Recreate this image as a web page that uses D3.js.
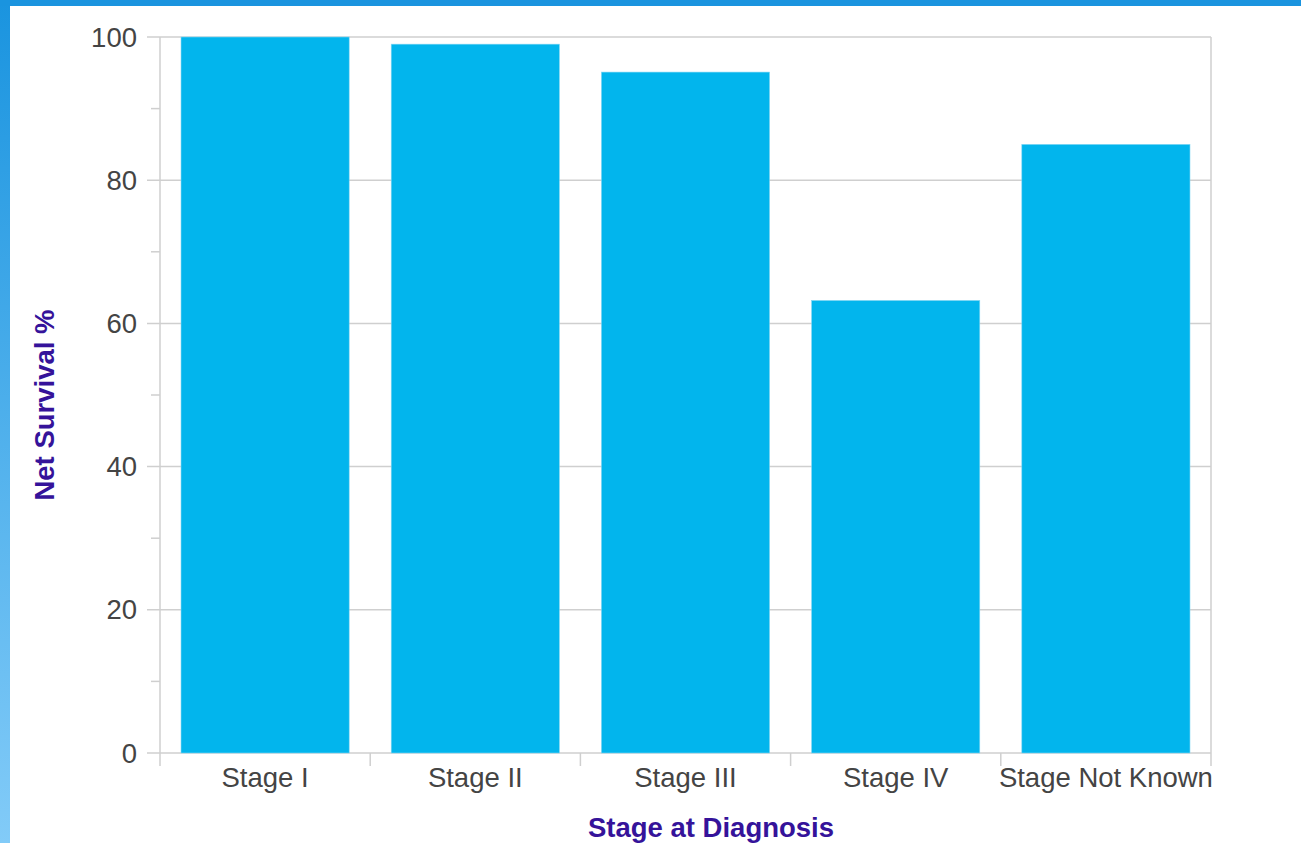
<!DOCTYPE html>
<html>
<head>
<meta charset="utf-8">
<script src="https://cdn.jsdelivr.net/npm/d3@7"></script>
<style>
  html, body { margin: 0; padding: 0; background: #fff; }
  svg { display: block; }
</style>
</head>
<body>
<svg id="chart"></svg>
<script>
// data
var stages = ["Stage I", "Stage II", "Stage III", "Stage IV", "Stage Not Known"];
var survival = [100, 99.0, 95.1, 63.2, 85.0];
var yTicks = [0, 20, 40, 60, 80, 100];
var yMinorTicks = [10, 30, 50, 70, 90];

var width = 1301;
var height = 843;
var margin = {top: 37, right: 90, bottom: 90, left: 160};

var svg = d3.select("#chart")
    .attr("width", width)
    .attr("height", height);

// blue frame (top bar + left gradient strip)
var defs = svg.append("defs");
var grad = defs.append("linearGradient")
    .attr("id", "leftgrad")
    .attr("x1", 0).attr("y1", 0).attr("x2", 0).attr("y2", 1);
grad.append("stop").attr("offset", "0%").attr("stop-color", "#1a94df");
grad.append("stop").attr("offset", "100%").attr("stop-color", "#82cbf8");

svg.append("rect").attr("x", 0).attr("y", 0).attr("width", 10).attr("height", height)
    .attr("fill", "url(#leftgrad)");
svg.append("rect").attr("x", 0).attr("y", 0).attr("width", width).attr("height", 6)
    .attr("fill", "#1a94df");

var x0 = margin.left, x1 = width - margin.right;
var y0 = height - margin.bottom, y1 = margin.top;

var x = d3.scaleBand()
    .domain(stages)
    .range([x0, x1])
    .paddingInner(0.2)
    .paddingOuter(0.1);

var y = d3.scaleLinear()
    .domain([0, 100])
    .range([y0, y1]);

var gridColor = "#cfcfcf";
var labelFont = "27.5px 'Liberation Sans', Arial, sans-serif";
var titleFont = "bold 27.5px 'Liberation Sans', Arial, sans-serif";

// horizontal grid lines with left tick
svg.append("g")
    .selectAll("line")
    .data(yTicks)
    .enter()
    .append("line")
    .attr("x1", x0 - 13)
    .attr("x2", x1)
    .attr("y1", d => y(d))
    .attr("y2", d => y(d))
    .attr("stroke", gridColor)
    .attr("stroke-width", 1.5);

// minor ticks
svg.append("g")
    .selectAll("line")
    .data(yMinorTicks)
    .enter()
    .append("line")
    .attr("x1", x0 - 9)
    .attr("x2", x0)
    .attr("y1", d => y(d))
    .attr("y2", d => y(d))
    .attr("stroke", gridColor)
    .attr("stroke-width", 1.5);

// category boundary ticks below axis
var bounds = stages.map(s => x(s) - x.step() * x.paddingInner() / 2);
bounds[0] = x0;
bounds.push(x1);
svg.append("g")
    .selectAll("line")
    .data(bounds)
    .enter()
    .append("line")
    .attr("x1", d => d)
    .attr("x2", d => d)
    .attr("y1", y1)
    .attr("y2", (d, i) => (i === 0 || i === bounds.length - 1) ? y0 + 13 : y0)
    .attr("stroke", gridColor)
    .attr("stroke-width", 1.5)
    .filter((d, i) => i > 0 && i < bounds.length - 1)
    .attr("y1", y0)
    .attr("y2", y0 + 13);

// bars
svg.append("g")
    .selectAll("rect")
    .data(stages)
    .enter()
    .append("rect")
    .attr("x", d => x(d))
    .attr("y", (d, i) => y(survival[i]))
    .attr("width", x.bandwidth())
    .attr("height", (d, i) => y(0) - y(survival[i]))
    .attr("fill", "#02b5ed")
    .attr("stroke", "#7fd6f4")
    .attr("stroke-width", 0.6);

// y tick labels
svg.append("g")
    .selectAll("text")
    .data(yTicks)
    .enter()
    .append("text")
    .attr("x", x0 - 23)
    .attr("y", d => y(d))
    .attr("dy", "0.35em")
    .attr("text-anchor", "end")
    .style("font", labelFont)
    .attr("fill", "#444")
    .text(d => d);

// x tick labels
svg.append("g")
    .selectAll("text")
    .data(stages)
    .enter()
    .append("text")
    .attr("x", d => x(d) + x.bandwidth() / 2)
    .attr("y", y0 + 24)
    .attr("dy", "0.35em")
    .attr("text-anchor", "middle")
    .style("font", labelFont)
    .attr("fill", "#444")
    .text(d => d);

// axis titles
svg.append("text")
    .attr("x", 711)
    .attr("y", 827)
    .attr("dy", "0.35em")
    .attr("text-anchor", "middle")
    .style("font", titleFont)
    .attr("fill", "#35139a")
    .text("Stage at Diagnosis");

svg.append("text")
    .attr("transform", "translate(44," + ((y0 + y1) / 2 + 10) + ") rotate(-90)")
    .attr("dy", "0.35em")
    .attr("text-anchor", "middle")
    .style("font", titleFont)
    .attr("fill", "#35139a")
    .text("Net Survival %");
</script>
</body>
</html>
